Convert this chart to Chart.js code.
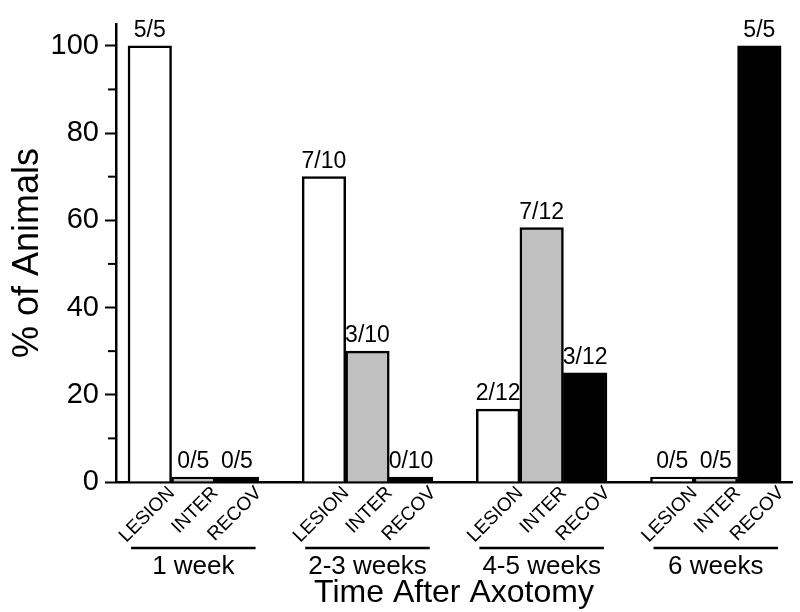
<!DOCTYPE html>
<html>
<head>
<meta charset="utf-8">
<title>% of Animals by time after axotomy</title>
<script src="https://cdn.jsdelivr.net/npm/chart.js@4.4.1/dist/chart.umd.min.js"></script>
<style>
  html, body { margin: 0; padding: 0; background: #fff; }
  #wrap { width: 800px; height: 612px; position: relative; }
</style>
</head>
<body>
<div id="wrap"><canvas id="axotomyChart"></canvas></div>
<script>
'use strict';

// --- data ---
const groups = ['1 week', '2-3 weeks', '4-5 weeks', '6 weeks'];
const seriesNames = ['LESION', 'INTER', 'RECOV'];
const lesion = [100, 70, 16.7, 0];
const inter = [0, 30, 58.3, 0];
const recov = [0, 0, 25, 100];
const lesionCounts = ['5/5', '7/10', '2/12', '0/5'];
const interCounts = ['0/5', '3/10', '7/12', '0/5'];
const recovCounts = ['0/5', '0/10', '3/12', '5/5'];
const yTicks = [0, 20, 40, 60, 80, 100];
const yMinorTicks = [10, 30, 50, 70, 90];

const FONT = "'Liberation Sans', Arial, Helvetica, sans-serif";
Chart.defaults.font.family = FONT;
Chart.defaults.color = '#000';

// one slot per bar, an empty slot between groups
const slot = (g, s) => g * (seriesNames.length + 1) + s;

const series = [
    { name: seriesNames[0], values: lesion, counts: lesionCounts, fill: '#ffffff' },
    { name: seriesNames[1], values: inter, counts: interCounts, fill: '#c0c0c0' },
    { name: seriesNames[2], values: recov, counts: recovCounts, fill: '#000000' }
];

const tickPositions = [];
groups.forEach((_, g) => seriesNames.forEach((_, s) => tickPositions.push(slot(g, s))));

// --- count labels above bars ---
const countLabels = {
    id: 'countLabels',
    afterDatasetsDraw(chart) {
        const ctx = chart.ctx;
        ctx.save();
        ctx.font = '23px ' + FONT;
        ctx.fillStyle = '#000';
        ctx.textAlign = 'center';
        ctx.textBaseline = 'alphabetic';
        series.forEach((sr, i) => {
            chart.getDatasetMeta(i).data.forEach((bar, j) => {
                ctx.fillText(sr.counts[j], bar.x, bar.y - 9);
            });
        });
        ctx.restore();
    }
};

// --- minor y ticks, group underlines and group names ---
const axisExtras = {
    id: 'axisExtras',
    afterDraw(chart) {
        const ctx = chart.ctx;
        const xs = chart.scales.x, ys = chart.scales.y;
        const area = chart.chartArea;
        ctx.save();
        ctx.strokeStyle = '#000';
        ctx.lineWidth = 2;
        yMinorTicks.forEach(v => {
            const py = ys.getPixelForValue(v);
            ctx.beginPath();
            ctx.moveTo(area.left - 8, py);
            ctx.lineTo(area.left, py);
            ctx.stroke();
        });

        ctx.lineWidth = 2.5;
        ctx.font = '26px ' + FONT;
        ctx.fillStyle = '#000';
        ctx.textAlign = 'center';
        ctx.textBaseline = 'alphabetic';
        groups.forEach((name, g) => {
            const mid = slot(g, 1);
            const x0 = xs.getPixelForValue(mid - 1.43);
            const x1 = xs.getPixelForValue(mid + 1.43);
            const ly = area.bottom + 66;
            ctx.beginPath();
            ctx.moveTo(x0, ly);
            ctx.lineTo(x1, ly);
            ctx.stroke();
            ctx.fillText(name, xs.getPixelForValue(mid), ly + 26);
        });
        ctx.restore();
    }
};

new Chart(document.getElementById('axotomyChart'), {
    type: 'bar',
    data: {
        datasets: series.map((sr, i) => ({
            label: sr.name,
            data: sr.values.map((v, g) => ({ x: slot(g, i), y: v })),
            backgroundColor: sr.fill,
            borderColor: '#000',
            borderWidth: 2.5,
            grouped: false,
            barPercentage: 1,
            categoryPercentage: 1,
            minBarLength: 5
        }))
    },
    options: {
        responsive: true, maintainAspectRatio: false,
        animation: false,
        layout: { padding: { top: 24, right: 8, bottom: 0, left: 0 } },
        plugins: { legend: { display: false }, tooltip: { enabled: false } },
        scales: {
            x: {
                type: 'linear',
                min: -0.776, max: 14.75,
                offset: false,
                z: 1,
                afterBuildTicks: s => { s.ticks = tickPositions.map(v => ({ value: v })); },
                afterFit: s => { s.height = 130; },
                ticks: {
                    autoSkip: false,
                    minRotation: 45, maxRotation: 45,
                    labelOffset: 22,
                    padding: 0,
                    font: { size: 19 },
                    callback: (v, i) => seriesNames[i % seriesNames.length]
                },
                grid: { display: false, drawTicks: false },
                border: { color: '#000', width: 2.5 },
                title: { display: true, text: 'Time After Axotomy', font: { size: 32 }, padding: 0 }
            },
            y: {
                min: 0, max: 105,
                afterBuildTicks: s => { s.ticks = yTicks.map(v => ({ value: v })); },
                afterFit: s => { s.width = 116; },
                ticks: { font: { size: 29 }, padding: 6 },
                grid: { drawOnChartArea: false, tickLength: 11, tickWidth: 2, color: '#000' },
                border: { color: '#000', width: 2.5 },
                title: { display: true, text: '% of Animals', font: { size: 36 }, padding: { top: 6, bottom: 0 } }
            }
        }
    },
    plugins: [countLabels, axisExtras]
});
</script>
</body>
</html>
